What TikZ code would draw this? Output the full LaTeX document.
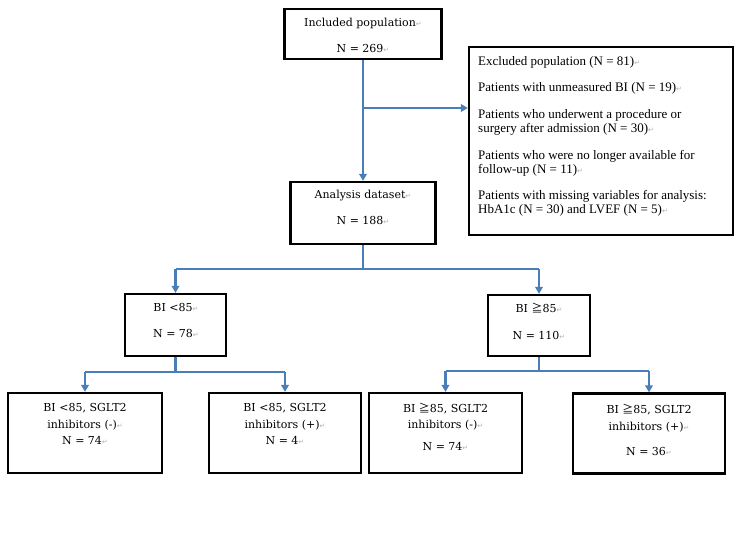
\documentclass[tikz,border=0pt]{standalone}
\usepackage{fontspec}
\setmainfont{Liberation Serif}
\newfontfamily\boxfont{DejaVu Serif}
\newfontfamily\cjkfont{Noto Sans CJK JP}
\newfontfamily\symfont{DejaVu Sans}
\usetikzlibrary{arrows.meta}
\definecolor{flowblue}{RGB}{74,126,187}
\newcommand\ret{{\symfont\color{black!30}\fontsize{7}{7}\selectfont ↵}}
\newcommand\mygeq{{\cjkfont ≧}}
\begin{document}
\begin{tikzpicture}[x=1pt,y=-1pt,
  box/.style={draw=black,line width=2.2pt,fill=white,inner sep=0pt},
  txt/.style={inner sep=0pt,align=center,anchor=base,
    font=\boxfont\fontsize{11}{16.5}\selectfont},
  extxt/.style={inner sep=0pt,align=left,anchor=base west,
    font=\fontsize{13}{14}\selectfont},
  conn/.style={draw=flowblue,line width=2.4pt},
  arr/.style={conn,-{Triangle[length=7pt,width=7.5pt]}}]
\useasboundingbox (0,0) rectangle (750,534);

% boxes
\node[box,minimum width=157pt,minimum height=50pt] (inc) at (363,34) {};
\node[box,minimum width=264pt,minimum height=188pt] (exc) at (601,141) {};
\node[box,minimum width=145pt,minimum height=62pt] (ana) at (363,213) {};
\node[box,minimum width=101pt,minimum height=62pt] (lo) at (175.5,325) {};
\node[box,minimum width=102pt,minimum height=61pt] (hi) at (539,325.5) {};
\node[box,minimum width=154pt,minimum height=80pt] (b1) at (85,433) {};
\node[box,minimum width=152pt,minimum height=80pt] (b2) at (285,433) {};
\node[box,minimum width=153pt,minimum height=80pt] (b3) at (445.5,433) {};
\node[box,minimum width=152pt,minimum height=80pt] (b4) at (649,433.5) {};

% texts (anchored at the baseline of their last line)
\node[txt] (inc-t) at (363,53) {Included population\ret\\[9.5pt]N = 269\ret};
\node[extxt] (exc-t) at (478,214)
  {Excluded population (N = 81)\ret\\[12.7pt]
   Patients with unmeasured BI (N = 19)\ret\\[12.7pt]
   Patients who underwent a procedure or\\
   surgery after admission (N = 30)\ret\\[12.7pt]
   Patients who were no longer available for\\
   follow-up (N = 11)\ret\\[12.7pt]
   Patients with missing variables for analysis:\\
   HbA1c (N = 30) and LVEF (N = 5)\ret};
\node[txt] (ana-t) at (363,225) {Analysis dataset\ret\\[9.5pt]N = 188\ret};
\node[txt] (lo-t) at (176,338) {BI <85\ret\\[9.5pt]N = 78\ret};
\node[txt] (hi-t) at (539,340) {BI \mygeq85\ret\\[10.5pt]N = 110\ret};
\node[txt] (b1-t) at (85,445) {BI <85, SGLT2\\inhibitors (-)\ret\\[0pt]N = 74\ret};
\node[txt] (b2-t) at (285,445) {BI <85, SGLT2\\inhibitors (+)\ret\\[0pt]N = 4\ret};
\node[txt] (b3-t) at (445.5,451) {BI \mygeq85, SGLT2\\inhibitors (-)\ret\\[6pt]N = 74\ret};
\node[txt] (b4-t) at (649,456) {BI \mygeq85, SGLT2\\inhibitors (+)\ret\\[9pt]N = 36\ret};

% top trunk
\coordinate (br) at (363,108);
\draw[arr] (inc.south) -- (ana.north);
\draw[arr] (br) -- (br -| exc.west);

% analysis split
\coordinate (s1) at (363,269);
\draw[conn] (ana.south) -- (s1);
\draw[conn] (s1 -| lo.north) -- (s1 -| hi.north);
\draw[arr] (s1 -| lo.north) -- (lo.north);
\draw[arr] (s1 -| hi.north) -- (hi.north);

% low split
\coordinate (s2) at (175.5,372);
\draw[conn] (lo.south) -- (s2);
\draw[conn] (s2 -| b1.north) -- (s2 -| b2.north);
\draw[arr] (s2 -| b1.north) -- (b1.north);
\draw[arr] (s2 -| b2.north) -- (b2.north);

% high split
\coordinate (s3) at (539,371);
\draw[conn] (hi.south) -- (s3);
\draw[conn] (s3 -| b3.north) -- (s3 -| b4.north);
\draw[arr] (s3 -| b3.north) -- (b3.north);
\draw[arr] (s3 -| b4.north) -- (b4.north);
\end{tikzpicture}
\end{document}
